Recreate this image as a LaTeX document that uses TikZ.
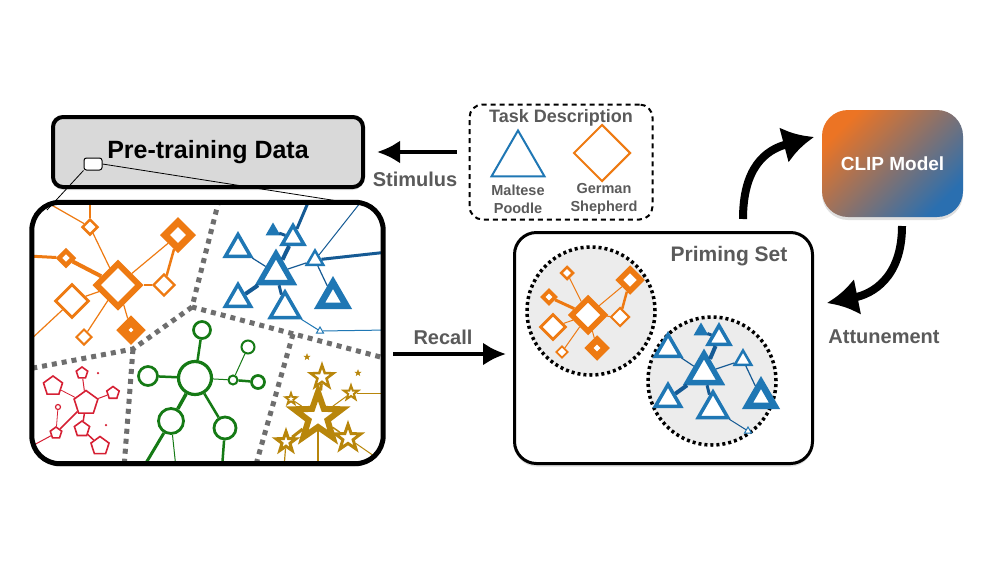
\documentclass[tikz,border=0pt]{standalone}
\usepackage{fontspec}
\setmainfont{Liberation Sans}
\usepackage{tikz}
\usetikzlibrary{arrows.meta,shapes.geometric,shadows,positioning}

\definecolor{corange}{HTML}{EE7A12}
\definecolor{cblue}{HTML}{1F77B4}
\definecolor{cdblue}{HTML}{155A94}
\definecolor{cgreen}{HTML}{157A15}
\definecolor{cred}{HTML}{D62034}
\definecolor{cgold}{HTML}{B8860B}
\definecolor{ctext}{HTML}{5A5A5A}
\definecolor{cfill}{HTML}{D9D9D9}
\definecolor{cpale}{HTML}{ECECEC}
\definecolor{cpart}{HTML}{6E6E6E}
\definecolor{clipor}{HTML}{EC7424}
\definecolor{clipbl}{HTML}{2A6FB0}

\tikzset{
  lbl/.style={text=ctext, inner sep=0pt, font=\bfseries\fontsize{#1}{#1}\selectfont},
  odia/.style={diamond, draw=corange, fill=white, inner sep=0pt, minimum size=#1},
  btri/.style={regular polygon, regular polygon sides=3, draw=cblue, fill=white, inner sep=0pt, minimum size=#1},
  gcirc/.style={circle, draw=cgreen, fill=white, inner sep=0pt, minimum size=#1},
  rpent/.style={regular polygon, regular polygon sides=5, draw=cred, fill=white, inner sep=0pt, minimum size=#1},
  gstar/.style={star, star points=5, star point ratio=2.5, draw=cgold, fill=white, inner sep=0pt, minimum size=#1},
  partline/.style={draw=cpart, line width=5pt, dash pattern=on 5pt off 5pt},
  bigarrow/.style={line width=4pt, -{Latex[length=23pt,width=23pt]}},
  curvearrow/.style={line width=8pt, -{Latex[length=31pt,width=37pt]}},
  softshadow/.style={drop shadow={shadow xshift=0pt, shadow yshift=-3pt, opacity=0.25}},
}

\begin{document}
\begin{tikzpicture}[x=1pt,y=-1pt]
\useasboundingbox[fill=white] (0,0) rectangle (1000,563);

% pre-training data and its pool
\node[draw, fill=cfill, line width=4pt, rounded corners=10pt, minimum width=310pt, minimum height=70pt,
      softshadow, font=\bfseries\fontsize{25}{25}\selectfont] (pre) at (208,152) {Pre-training Data};
\node[fill=white, rounded corners=28pt, minimum width=351pt, minimum height=261pt, softshadow] (pool) at (207.5,333) {};
\node[draw, fill=white, line width=1pt, rounded corners=2.5pt, minimum width=18pt, minimum height=12pt, inner sep=0pt] (zoom) at (93,164) {};
\coordinate (zl) at (47,210);
\coordinate (zr) at (357,204);
\draw[line width=0.8pt] (zoom.south west) -- (zl);
\draw[line width=0.8pt] (zoom.east) -- (zr);

\begin{scope}
\clip[rounded corners=28pt] (pool.north west) rectangle (pool.south east);
% partitions
\coordinate (j1) at (192,307);
\coordinate (j2) at (133,349);
\coordinate (j3) at (293,334);
\draw[partline] (219,200) -- (j1) -- (388,359);
\draw[partline] (j1) -- (j2) -- (28,369);
\draw[partline] (j2) -- (124,468);
\draw[partline] (j3) -- (255,468);

% orange cluster
\foreach \n/\x/\y/\s/\w in {1/118/285/45/6, 2/90/227/16/2.5, 3/66/258/16/4.5, 4/178/235/29/7,
    5/164/285/22/2.2, 6/72/301/34/2.8, 7/131/330/21/8.5, 8/84/337/16/2}
  \node[odia=\s pt, line width=\w pt] (o\n) at (\x,\y) {};
\coordinate (oe1) at (90,198);
\coordinate (oe2) at (48,203);
\coordinate (oe3) at (28,256);
\coordinate (oe4) at (28,342);
\foreach \a/\b/\w in {o1/o2/1.2, o1/o3/4, o1/o4/1.2, o1/o5/1.2, o1/o6/1.2, o1/o7/1.2, o1/o8/1.2,
    o4/o5/2.5, o2/oe1/1.2, o2/oe2/1.2, o3/oe3/3, o6/oe4/1.2}
  \draw[corange, line width=\w pt] (\a) -- (\b);

% blue cluster
\foreach \n/\x/\y/\s/\w in {1/276/273/38/5.5, 2/293/238/25/3.5, 4/238/249/29/3.5, 5/238/299/29/3.5,
    6/285/309/34/3.5, 7/333/298/31/6.5, 8/315/260/19/2.5, 9/320/331/8/1}
  \node[btri=\s pt, line width=\w pt] (b\n) at (\x,\y) {};
\node[btri=15pt, fill=cblue, line width=1pt] (b3) at (273,231) {};
\coordinate (be1) at (310,198);
\coordinate (be2) at (388,252);
\coordinate (be3) at (364,198);
\coordinate (be4) at (388,330);
\foreach \a/\b/\w/\c in {b1/b2/4/cdblue, b3/b2/3/cdblue, b1/b4/1.2/cdblue, b1/b5/4/cdblue,
    b1/b6/3/cdblue, b1/b8/1.2/cdblue, b8/b7/1.2/cdblue, b6/b9/1/cblue, b2/be1/3/cdblue,
    b8/be2/3/cdblue, b8/be3/1/cdblue, b9/be4/1/cblue}
  \draw[\c, line width=\w pt] (\a) -- (\b);

% green cluster
\foreach \n/\x/\y/\s/\w in {1/195/378/33/3.2, 2/202/330/17/2.7, 3/148/376/19/2.7, 4/171/421/25/2.8,
    5/225/428/22/2.8, 6/233/380/9/2, 7/258/382/13/2.7, 8/248/347/13/2}
  \node[gcirc=\s pt, line width=\w pt] (g\n) at (\x,\y) {};
\coordinate (ge1) at (143,468);
\coordinate (ge2) at (176,468);
\coordinate (ge3) at (222,468);
\foreach \a/\b/\w in {g1/g2/2.5, g1/g3/2.5, g1/g4/3.5, g1/g5/2.5, g1/g6/1, g6/g7/2.5, g6/g8/1,
    g4/ge1/3, g4/ge2/1, g5/ge3/2.5}
  \draw[cgreen, line width=\w pt] (\a) -- (\b);

% red cluster
\foreach \n/\x/\y/\s in {1/86/403/25, 2/53/386/20, 3/82/373/12, 4/113/393/13, 5/82/429/16,
    6/100/446/19, 7/56/433/12}
  \node[rpent=\s pt, line width=1.6pt] (r\n) at (\x,\y) {};
\node[circle, draw=cred, fill=white, line width=1.2pt, minimum size=5pt, inner sep=0pt] (r8) at (58,407) {};
\node[circle, fill=cred, minimum size=2.5pt, inner sep=0pt] (r9) at (98,373) {};
\node[circle, fill=cred, minimum size=2.5pt, inner sep=0pt] (r10) at (106,425) {};
\coordinate (re1) at (32,446);
\foreach \a/\b/\w in {r1/r2/0.8, r1/r3/1, r1/r4/1, r1/r5/1.5, r1/r7/1.5, r5/r6/1.5, r7/r8/0.8, r7/re1/1}
  \draw[cred, line width=\w pt] (\a) -- (\b);

% gold cluster
\foreach \n/\x/\y/\s/\w in {1/318/417/50/6, 2/322/377/24/2.5, 3/351/393/15/2, 4/291/399/12/1.8,
    5/348/438/27/3, 6/286/442/21/3}
  \node[gstar=\s pt, line width=\w pt] (s\n) at (\x,\y) {};
\node[gstar=6pt, fill=cgold, line width=0.5pt] (s7) at (307,357) {};
\node[gstar=6pt, fill=cgold, line width=0.5pt] (s8) at (358,373) {};
\coordinate (se1) at (388,393);
\coordinate (se2) at (318,468);
\coordinate (se3) at (284,468);
\coordinate (se4) at (374,456);
\foreach \a/\b/\w in {s1/s2/3, s1/s3/1, s1/s4/1, s1/s5/1.5, s1/s6/3, s3/se1/0.8, s1/se2/1.2, s6/se3/1.2, s5/se4/1}
  \draw[cgold, line width=\w pt] (\a) -- (\b);
\end{scope}
\draw[line width=5pt, rounded corners=28pt] (pool.north west) rectangle (pool.south east);

% task description
\node[draw, line width=2pt, dash pattern=on 5pt off 4pt, rounded corners=13pt,
      minimum width=183pt, minimum height=115pt] (task) at (561,162) {};
\node[lbl=18] (tasktitle) at (561,118) {Task Description};
\node[btri=61pt, line width=2pt] (tdog) at (518,161) {};
\node[odia=57pt, line width=2pt] (tshep) at (602,153) {};
\node[lbl=14.5, align=center, font=\bfseries\fontsize{14.5}{18}\selectfont] (maltese) at (518,199) {Maltese\\Poodle};
\node[lbl=14.5, align=center, font=\bfseries\fontsize{14.5}{18}\selectfont] (german) at (604,199) {German\\Shepherd};

\draw[bigarrow, shorten <=12pt, shorten >=12pt] (task.west |- pre.east) -- (pre.east);
\node[lbl=20] (stimulus) at (415,179) {Stimulus};

% priming set
\node[draw, fill=white, line width=3pt, rounded corners=22pt, minimum width=298pt, minimum height=231pt,
      softshadow] (prime) at (663.5,348) {};
\node[lbl=21] (primetitle) at (729,256) {Priming Set};
\node[circle, fill=cpale, draw=black, line width=3.5pt, dash pattern=on 3pt off 3pt, minimum size=128pt] (porange) at (591,311) {};
\node[circle, fill=cpale, draw=black, line width=3.5pt, dash pattern=on 3pt off 3pt, minimum size=128pt] (pblue) at (712,381) {};

\foreach \n/\x/\y/\s/\w in {1/588/315/35/5.5, 2/567/273/13/2.5, 3/549/297/14/3.8, 4/630/280/24/5.5,
    5/620/317/19/2, 6/553/327/26/2.8, 7/597/348/19/6.5, 8/562/352/12/1.8}
  \node[odia=\s pt, line width=\w pt] (p\n) at (\x,\y) {};
\foreach \a/\b/\w in {p1/p2/1, p1/p3/3, p1/p4/1, p1/p5/1, p1/p6/1, p1/p7/1, p1/p8/1, p4/p5/2.5}
  \draw[corange, line width=\w pt] (\a) -- (\b);

\foreach \n/\x/\y/\s/\w in {1/704/373/38/5.5, 2/719/338/25/3.5, 4/668/349/29/3.5, 5/668/399/29/3.5,
    6/713/409/34/3.5, 7/761/398/31/6.5, 8/743/360/19/2.5, 9/748/431/8/1}
  \node[btri=\s pt, line width=\w pt] (q\n) at (\x,\y) {};
\node[btri=15pt, fill=cblue, line width=1pt] (q3) at (701,331) {};
\foreach \a/\b/\w in {q1/q2/4, q3/q2/3, q1/q4/1.2, q1/q5/4, q1/q6/3, q1/q8/1.2, q8/q7/1.2, q6/q9/1}
  \draw[cdblue, line width=\w pt] (\a) -- (\b);

\coordinate (rs) at (393,354);
\draw[bigarrow, shorten >=7pt] (rs) -- (rs -| prime.west);
\node[lbl=20] (recall) at (443,337) {Recall};

% CLIP model and the loop
\node[rounded corners=26pt, minimum width=141pt, minimum height=107pt, softshadow,
      top color=clipor, bottom color=clipbl, shading angle=45,
      text=white, font=\bfseries\fontsize{19}{19}\selectfont] (clip) at (892.5,163.5) {CLIP Model};
\coordinate (upstart) at (743,219);
\coordinate (upend) at (814,137);
\draw[curvearrow] (upstart) .. controls (743,168) and (765,150) .. (upend);
\coordinate (downstart) at (902,226);
\coordinate (downend) at (827,303);
\draw[curvearrow] (downstart) .. controls (902,278) and (872,294) .. (downend);
\node[lbl=20] (attune) at (884,337) {Attunement};
\end{tikzpicture}
\end{document}
